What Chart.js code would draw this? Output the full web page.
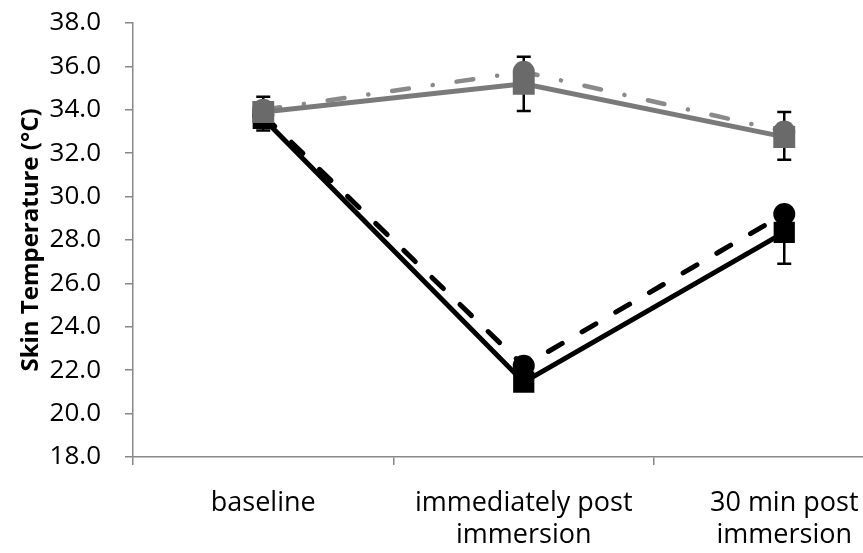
<!DOCTYPE html>
<html>
<head>
<meta charset="utf-8">
<script src="https://cdn.jsdelivr.net/npm/chart.js@4.4.1/dist/chart.umd.min.js"></script>
<style>
html,body{margin:0;padding:0;background:#fff;overflow:hidden;width:863px;height:553px;}
#wrap{position:absolute;left:0;top:0;width:930px;height:553px;}
</style>
</head>
<body>
<div id="wrap"><canvas id="c" width="930" height="553"></canvas></div>
<script>
const categories = [['baseline'], ['immediately post', 'immersion'], ['30 min post', 'immersion']];
const yTicks = [18, 20, 22, 24, 26, 28, 30, 32, 34, 36, 38];

const graySquare = [33.9, 35.2, 32.75];
const grayCircle = [34.0, 35.75, 33.0];
const blackCircle = [33.75, 22.2, 29.2];
const blackSquare = [33.6, 21.45, 28.35];

const graySquareErrPlus = [0.7, 1.25, 1.15];
const graySquareErrMinus = [0.7, 1.25, 1.05];
const blackSquareErrPlus = [0.55, 0.4, 0.8];
const blackSquareErrMinus = [0.55, 0.4, 1.45];

const errorBars = {
  id: 'errorBars',
  beforeDatasetsDraw(chart) {
    const ctx = chart.ctx;
    const y = chart.scales.y;
    chart.data.datasets.forEach((ds, di) => {
      if (!ds.errPlus) return;
      const meta = chart.getDatasetMeta(di);
      meta.data.forEach((pt, i) => {
        const v = ds.data[i];
        const top = y.getPixelForValue(v + ds.errPlus[i]);
        const bot = y.getPixelForValue(v - ds.errMinus[i]);
        ctx.save();
        ctx.strokeStyle = '#000';
        ctx.lineWidth = 2.5;
        ctx.beginPath();
        ctx.moveTo(pt.x, top); ctx.lineTo(pt.x, bot);
        ctx.moveTo(pt.x - 7, top); ctx.lineTo(pt.x + 7, top);
        ctx.moveTo(pt.x - 7, bot); ctx.lineTo(pt.x + 7, bot);
        ctx.stroke();
        ctx.restore();
      });
    });
  }
};

const FONT = '"Open Sans", sans-serif';

new Chart(document.getElementById('c'), {
  type: 'line',
  data: {
    labels: categories,
    datasets: [
      {
        data: graySquare, errPlus: graySquareErrPlus, errMinus: graySquareErrMinus,
        borderColor: '#7a7a7a', backgroundColor: '#6a6a6a', borderWidth: 5,
        pointStyle: 'rect', pointRadius: 15.5, pointBorderWidth: 0,
        pointBackgroundColor: '#6a6a6a', tension: 0
      },
      {
        data: grayCircle,
        borderColor: '#8a8a8a', backgroundColor: '#6a6a6a', borderWidth: 4.5,
        borderDash: [17, 24, 0.1, 24], borderCapStyle: 'round',
        pointStyle: 'circle', pointRadius: 11, pointBorderWidth: 0,
        pointBackgroundColor: '#6a6a6a', tension: 0
      },
      {
        data: blackCircle,
        borderColor: '#000', backgroundColor: '#000', borderWidth: 5,
        borderDash: [16, 23], borderCapStyle: 'round',
        pointStyle: 'circle', pointRadius: 11, pointBorderWidth: 0,
        pointBackgroundColor: '#000', tension: 0
      },
      {
        data: blackSquare, errPlus: blackSquareErrPlus, errMinus: blackSquareErrMinus,
        borderColor: '#000', backgroundColor: '#000', borderWidth: 5,
        pointStyle: 'rect', pointRadius: 15, pointBorderWidth: 0,
        pointBackgroundColor: '#000', tension: 0
      }
    ]
  },
  options: {
    responsive: false,
    animation: false,
    layout: { padding: { top: 23, right: 10, left: 0, bottom: 0 } },
    plugins: { legend: { display: false }, tooltip: { enabled: false } },
    scales: {
      x: {
        type: 'category',
        offset: true,
        grid: { display: true, offset: true, drawOnChartArea: false, tickLength: 8, color: '#888', lineWidth: 1.5 },
        border: { display: true, color: '#888', width: 1.5 },
        ticks: { color: '#000', font: { family: FONT, size: 27, lineHeight: 1.2 }, padding: 22, maxRotation: 0, autoSkip: false },
        afterFit(scale) { scale.height = 96; scale.paddingLeft = 0; scale.paddingRight = 0; }
      },
      y: {
        min: 18, max: 38,
        afterBuildTicks(scale) { scale.ticks = yTicks.map(v => ({ value: v })); },
        grid: { display: true, drawOnChartArea: false, tickLength: 8, color: '#888', lineWidth: 1.5 },
        border: { display: true, color: '#888', width: 1.5 },
        ticks: { color: '#000', font: { family: FONT, size: 26 }, padding: 24, callback: v => Number(v).toFixed(1) },
        title: { display: true, text: 'Skin Temperature (°C)', color: '#000', font: { family: FONT, size: 24, weight: 'bold' }, padding: { top: 17, bottom: 0 } },
        afterFit(scale) { scale.width = 133; scale.paddingTop = 0; scale.paddingBottom = 0; }
      }
    }
  },
  plugins: [errorBars]
});
</script>
</body>
</html>
